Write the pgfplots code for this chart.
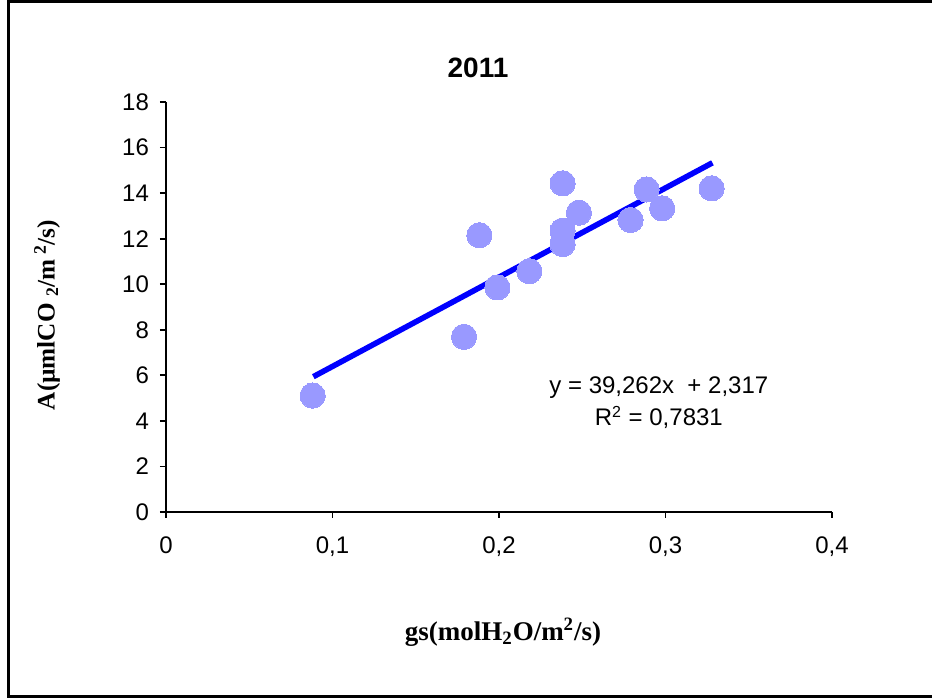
\documentclass[border=0pt]{standalone}
\usepackage{pgfplots}
\pgfplotsset{compat=1.18}
\usepackage{fontspec}
\setmainfont{Liberation Sans}
\newfontfamily\timesfont{Liberation Serif}
\definecolor{ptcol}{RGB}{153,153,255}
\begin{document}
\begin{tikzpicture}
\useasboundingbox (0,0) rectangle (466pt,349.5pt);
\draw[line width=1.5pt] (480pt,1pt) -- (4pt,1pt) -- (4pt,348.5pt) -- (480pt,348.5pt);
\begin{axis}[
  at={(83pt,93.5pt)}, anchor=south west,
  scale only axis, width=333pt, height=205pt,
  xmin=0, xmax=0.4, ymin=0, ymax=18,
  axis lines*=left, axis line style={line width=0.9pt, -},
  xtick={0,0.1,0.2,0.3,0.4}, ytick={0,2,...,18},
  tick align=outside, major tick length=3pt,
  tick style={line width=0.9pt, black},
  /pgf/number format/assume math mode=true,
  /pgf/number format/use comma,
  xticklabel style={font=\fontsize{12}{14}\selectfont, yshift=-6pt},
  yticklabel style={font=\fontsize{12}{14}\selectfont, xshift=-2pt},
  clip=false,
]
\addplot[only marks, color=ptcol, mark=*, mark size=6.3pt, mark options={fill=ptcol, draw=ptcol, line width=0pt}] coordinates {
(0.0881,5.11) (0.179,7.69) (0.1882,12.15) (0.199,9.86) (0.2182,10.57)
(0.2382,14.43) (0.2382,12.35) (0.2382,11.76) (0.248,13.14) (0.279,12.82)
(0.2887,14.16) (0.298,13.33) (0.3277,14.21)
};
\addplot[color={rgb,255:red,0;green,0;blue,255}, line width=2.8pt] coordinates {(0.0885,5.94) (0.3282,15.33)};
\node[align=center, font=\fontsize{12}{16}\selectfont] at (axis cs:0.296,4.78) {y = 39,262x \ + 2,317\\R\textsuperscript{2} = 0,7831};
\end{axis}
\node[font=\fontsize{14}{16}\selectfont\bfseries] at (239pt,315.5pt) {2011};
\node[font=\timesfont\fontsize{13.5}{15}\selectfont\bfseries] at (251.5pt,33.5pt) {gs(molH\textsubscript{2}O/m\textsuperscript{2}/s)};
\node[rotate=90, font=\timesfont\fontsize{12.6}{14}\selectfont\bfseries] at (23.5pt,192pt) {A(µmlCO \textsubscript{2}/m\,\textsuperscript{2}/s)};
\end{tikzpicture}
\end{document}
